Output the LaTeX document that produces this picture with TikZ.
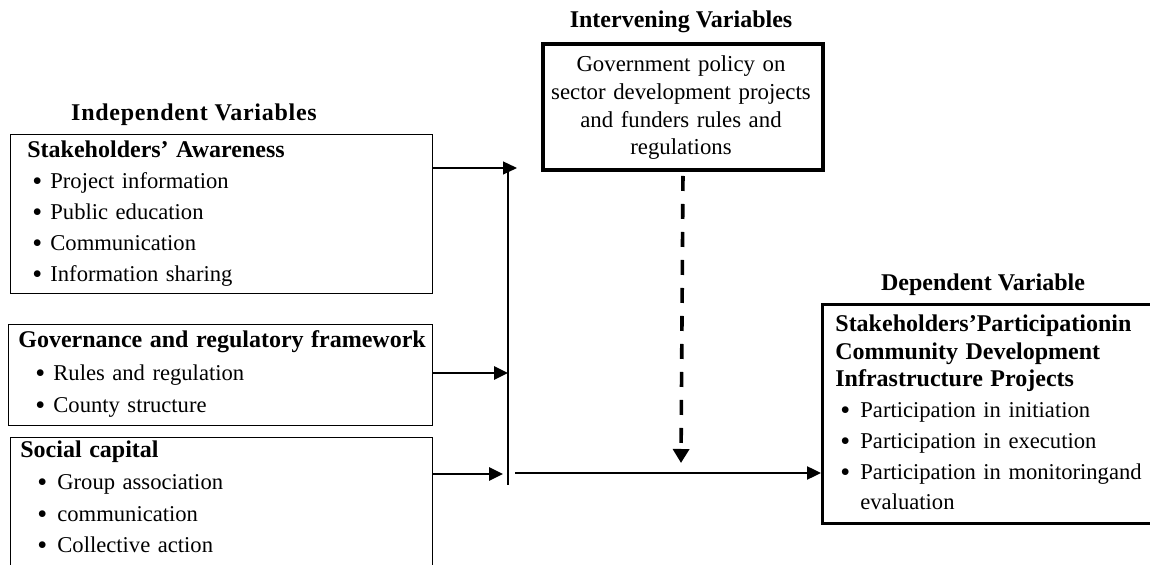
\documentclass[tikz,border=0pt]{standalone}
\usepackage{fontspec}
\setmainfont{Liberation Serif}
\usetikzlibrary{arrows.meta}
\newcommand{\linkarrow}{\draw[-{Triangle[length=7pt,width=6.5pt]}]}
\newcommand{\bul}[1]{\makebox[#1][l]{\raisebox{-1pt}{\scalebox{1.25}{\textbullet}}}}
\newcommand{\hd}[1]{{\fontsize{12}{14}\selectfont\bfseries #1}}

\begin{document}
\begin{tikzpicture}[x=0.5pt,y=-0.5pt,
    box/.style={draw,rectangle,inner sep=0pt,anchor=north west},
    boxtext/.style={anchor=base west,inner sep=0pt,align=left,text width=#1},
    heading/.style={anchor=base,inner sep=0pt,font=\fontsize{12}{14}\selectfont\bfseries}]
    \useasboundingbox (0,0) rectangle (1150,565);

    % Draw titles
    \node[heading, font=\fontsize{12}{14}\selectfont\bfseries\addfontfeature{LetterSpace=3}] (indtitle) at (194,121) {Independent Variables};
    \node[heading] (inttitle) at (681,28) {Intervening Variables};
    \node[heading] (deptitle) at (983,291) {Dependent Variable};

    % Draw boxes
    \node[box, line width=0.7pt, minimum width=211pt, minimum height=79.5pt] (aware) at (10,134) {};
    \node[box, line width=0.7pt, minimum width=212pt, minimum height=50.5pt] (gov) at (8,324) {};
    \node[box, line width=0.7pt, minimum width=211pt, minimum height=82pt] (social) at (10,437) {};
    \node[box, line width=2pt, minimum width=140pt, minimum height=63pt] (policy) at (541,42) {};
    \node[box, line width=1.6pt, minimum width=170pt, minimum height=109.5pt] (partic) at (821,303) {};

    % Texts in boxes
    \node[boxtext=205pt, font=\fontsize{11.3}{15.5}\selectfont] (awaretext) at (27,158)
        {\hd{Stakeholders’ Awareness}\\
         \hspace*{2.5pt}\bul{9pt}Project information\\
         \hspace*{2.5pt}\bul{9pt}Public education\\
         \hspace*{2.5pt}\bul{9pt}Communication\\
         \hspace*{2.5pt}\bul{9pt}Information sharing};
    \node[boxtext=210pt, font=\fontsize{11.3}{16.25}\selectfont] (govtext) at (18,348)
        {\hd{Governance and regulatory framework}\\
         \hspace*{8.5pt}\bul{9pt}Rules and regulation\\
         \hspace*{8.5pt}\bul{9pt}County structure};
    \node[boxtext=205pt, font=\fontsize{11.3}{15.8}\selectfont] (socialtext) at (20,458)
        {\hd{Social capital}\\
         \hspace*{8.5pt}\bul{10pt}Group association\\
         \hspace*{8.5pt}\bul{10pt}communication\\
         \hspace*{8.5pt}\bul{10pt}Collective action};
    \node[anchor=base, inner sep=0pt, align=center, text width=150pt,
          font=\fontsize{11.4}{13.8}\selectfont] (policytext) at (681,72)
        {Government policy on\\
         sector development projects\\
         and funders rules and\\
         regulations};
    \node[boxtext=165pt, font=\fontsize{11.3}{13.75}\selectfont] (partictext) at (835,332)
        {\hd{Stakeholders’Participationin}\\
         \hd{Community Development}\\
         \hd{Infrastructure Projects}\\[1.5pt]
         \hspace*{2.5pt}\bul{10pt}Participation in initiation\\[1.7pt]
         \hspace*{2.5pt}\bul{10pt}Participation in execution\\[1.7pt]
         \hspace*{2.5pt}\bul{10pt}Participation in monitoringand\\[1.5pt]
         \hspace*{12.5pt}evaluation};

    % Draw links
    \coordinate (barTop) at (508,172);
    \coordinate (barBot) at (508,485);
    \coordinate (tip1) at (517,168);
    \coordinate (tip2) at (508,373);
    \coordinate (tip3) at (503,474);
    \coordinate (outStart) at (515,473);
    \coordinate (dashTip) at (681,463);

    \draw[line width=1pt] (barTop) -- (barBot);
    \linkarrow[line width=0.6pt] (aware.east |- tip1) -- (tip1);
    \linkarrow[line width=1.4pt] (gov.east |- tip2) -- (tip2);
    \linkarrow[line width=1.4pt] (social.east |- tip3) -- (tip3);
    \linkarrow[line width=1.2pt] (outStart) -- (partic.west |- outStart);
    \draw[line width=1.8pt, dash pattern=on 7.5pt off 6.5pt, shorten <=2pt,
          -{Triangle[length=7pt,width=8pt]}] (policy.south) -- (dashTip);
\end{tikzpicture}
\end{document}
